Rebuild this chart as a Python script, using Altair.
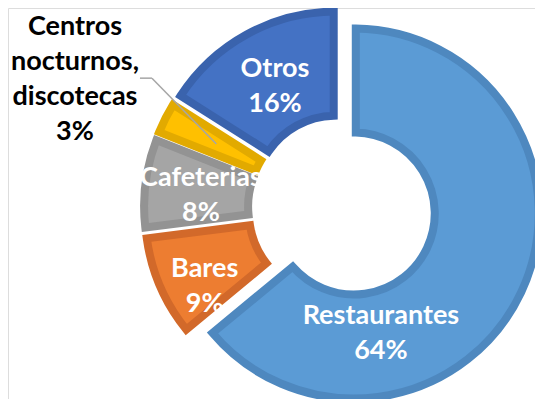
import altair as alt
import pandas as pd

# ---- data ----
categories = ["Restaurantes", "Bares", "Cafeterias", "Centros nocturnos, discotecas", "Otros"]
values = [64, 9, 8, 3, 16]

# ---- styles ----
display_names = ["Restaurantes", "Bares", "Cafeterias", "Centros\nnocturnos,\ndiscotecas", "Otros"]
fills = ["#5B9BD5", "#ED7D31", "#A5A5A5", "#FFC000", "#4472C4"]
strokes = ["#4E88BF", "#D2692A", "#939393", "#E2AA00", "#3A63AD"]
explode = [13, 13, 13, 13, 13]
label_deg = [167.2, 239.7, 275.0, 295.7, 331.1]
label_rad = [122.6, 145.2, 128.6, 283.5, 125.7]
label_col = ["white", "white", "white", "black", "white"]

CX, CY = 334, 200          # donut centre (px, chart coords)
R_IN, R_OUT = 81, 185
FONT = "Lato"
LH = 35

df = pd.DataFrame({
    "name": categories,
    "value": values,
    "order": list(range(len(categories))),
    "disp": display_names,
    "explode": explode,
    "ldeg": label_deg,
    "lr": label_rad,
    "lcol": label_col,
})

base = (
    alt.Chart(df)
    .transform_window(cum="sum(value)", sort=[alt.SortField("order")])
    .transform_joinaggregate(total="sum(value)")
    .transform_calculate(
        a0="(datum.cum - datum.value) / datum.total * 2 * PI",
        a1="datum.cum / datum.total * 2 * PI",
    )
    .transform_calculate(mid="(datum.a0 + datum.a1) / 2")
    .transform_calculate(
        cx=f"{CX} + datum.explode * sin(datum.mid)",
        cy=f"{CY} - datum.explode * cos(datum.mid)",
        la="datum.ldeg * PI / 180",
        pct="format(datum.value / datum.total, '.0%')",
    )
    .transform_calculate(
        lx="datum.cx + datum.lr * sin(datum.la)",
        lyc="datum.cy - datum.lr * cos(datum.la)",
        label="datum.disp + '\\n' + datum.pct",
        ex="datum.cx + 128 * sin(datum.mid)",
        ey="datum.cy - 128 * cos(datum.mid)",
    )
    .transform_calculate(
        ly=f"datum.lyc - (length(split(datum.label, '\\n')) - 1) * {LH} / 2"
    )
)

arcs = base.mark_arc(
    innerRadius=R_IN, outerRadius=R_OUT, strokeWidth=8, padAngle=0.02, strokeJoin="miter"
).encode(
    x=alt.X("cx:Q", scale=None),
    y=alt.Y("cy:Q", scale=None),
    theta=alt.Theta("a0:Q", scale=None),
    theta2="a1:Q",
    fill=alt.Fill("name:N", scale=alt.Scale(domain=categories, range=fills), legend=None),
    stroke=alt.Stroke("name:N", scale=alt.Scale(domain=categories, range=strokes), legend=None),
)

centros = base.transform_filter(alt.datum.order == 3).transform_calculate(
    k0x="datum.lx + 65", k1x="datum.lx + 77", ky="datum.lyc - 1"
)
leader_h = centros.mark_rule(color="#A6A6A6", strokeWidth=1.5).encode(
    x=alt.X("k0x:Q", scale=None), x2="k1x:Q",
    y=alt.Y("ky:Q", scale=None), y2="ky:Q",
)
leader_d = centros.mark_rule(color="#A6A6A6", strokeWidth=1.5).encode(
    x=alt.X("k1x:Q", scale=None), x2="ex:Q",
    y=alt.Y("ky:Q", scale=None), y2="ey:Q",
)

labels = base.mark_text(
    font=FONT, fontSize=27, fontWeight="bold", lineBreak="\n", lineHeight=LH,
    align="center", baseline="middle",
).encode(
    x=alt.X("lx:Q", scale=None),
    y=alt.Y("ly:Q", scale=None),
    text="label:N",
    color=alt.Color("lcol:N", scale=None),
)

chart = (
    alt.layer(arcs, leader_h, leader_d, labels)
    .properties(width=527, height=391, padding=0, autosize=alt.AutoSizeParams(type="none"))
    .configure_view(strokeWidth=0, stroke="transparent")
    .configure(background="white")
)

chart.save("out.html", embed_options={"renderer": "svg", "actions": False})
